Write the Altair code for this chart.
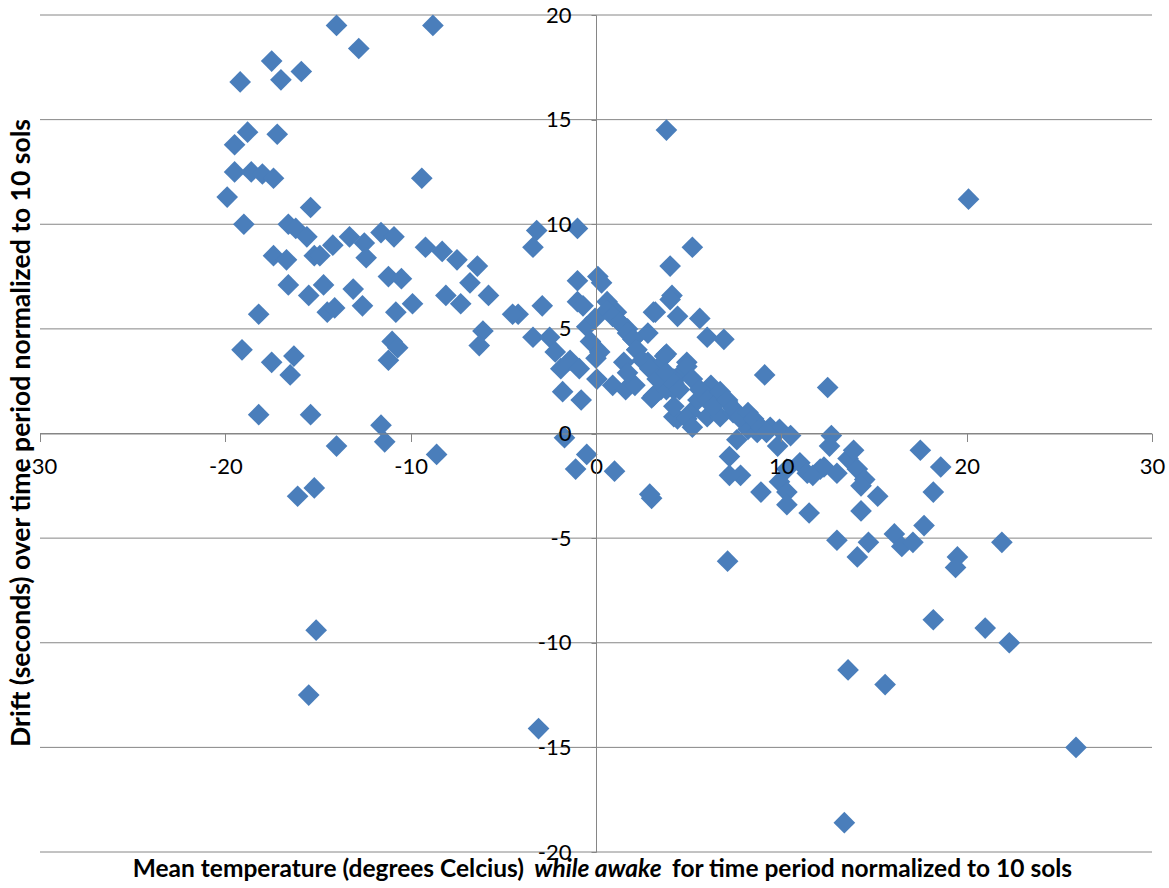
import altair as alt
import pandas as pd

# Mean temperature while awake (deg C) and clock drift (s), both normalized to 10 sols
temp_c = [
    -14.0, -12.8, -19.2, -17.5, -17.0, -15.9, -8.8,
    -18.8, -19.5, -17.2,
    -19.5, -18.6, -18.0, -17.4, -19.9, -9.4,
    -19.0, -15.4, -16.6, -16.2, -15.6,
    -17.4, -16.7, -15.2, -14.9, -14.2, -13.3, -12.5, -11.6, -10.9, -12.4,
    -16.6, -15.5, -14.7, -13.1, -11.2, -10.5,
    -9.2, -8.3, -7.5, -6.4, -6.8, -5.8, -8.1, -7.3, -9.9,
    -12.6, -14.5, -14.1, -10.8, -18.2,
    -6.1, -6.3, -11.0, -10.7, -11.2,
    -19.1, -17.5, -16.3, -16.5,
    -18.2, -15.4, -11.6, -11.4, -14.0, -8.6,
    -16.1, -15.2,
    -15.1, -15.5, -3.1,
    -3.2, -3.4, -1.0, -4.2, -4.5, -2.9, -1.0, 0.1, 0.3, -1.0, -0.7, -3.4,
    4.0, 5.2, 4.1, 4.4, 5.6, 6.0, 6.9, 3.2, 9.1, 3.8,
    -1.8, -0.8, -1.7, -0.5, -1.1, 1.0, 3.0,
    -2.5, -2.2, -1.9, -1.4, -0.9, -0.5, -0.05, -0.3, 0.2, 0.0, 0.05, 0.9, 1.6, 2.1,
    3.0, 3.7, 4.2, 4.2, 3.5,
    0.6, 1.1, 1.3, 1.7, 2.0, 2.2, 2.8, 3.1, 2.8, 3.3, 4.0, 1.5, 1.7, 4.4,
    4.9, 12.5, 3.1, 4.2, 3.8, 4.4, 5.1, 5.5, 6.2, 6.5, 7.1, 6.0, 6.7, 7.4, 7.8,
    8.2, 7.6, 7.2, 7.8, 7.2, 8.7, 9.4, 9.9, 10.5, 9.8, 10.3, 11.0, 11.4, 12.1,
    12.7, 12.6, 9.9, 8.9, 10.3, 2.9,
    0.6, 0.9, 1.3, 1.7, 2.0, 2.2, 2.5, 2.9, 3.3, 3.8, 4.2, 4.5, 4.9, 5.2, 5.6,
    6.0, 6.3, 6.7, 7.1, 7.4, 7.8, 8.2, 8.5, 8.9, 9.2, 4.2, 4.9, 5.2,
    11.7, 10.3, 11.5, 12.3, 13.0, 13.6, 13.9, 14.1, 14.5, 14.3, 15.2, 14.3,
    13.0, 14.1, 14.7, 16.1, 16.5, 17.1, 17.7, 17.5, 18.6, 18.2, 19.5, 19.4, 21.9,
    18.2, 21.0, 22.3, 15.6, 13.6, 7.1, 13.4, 25.9, 20.1, 3.8,
]
drift_s = [
    19.5, 18.4, 16.8, 17.8, 16.9, 17.3, 19.5,
    14.4, 13.8, 14.3,
    12.5, 12.5, 12.4, 12.2, 11.3, 12.2,
    10.0, 10.8, 10.0, 9.8, 9.4,
    8.5, 8.3, 8.5, 8.5, 9.0, 9.4, 9.1, 9.6, 9.4, 8.4,
    7.1, 6.6, 7.1, 6.9, 7.5, 7.4,
    8.9, 8.7, 8.3, 8.0, 7.2, 6.6, 6.6, 6.2, 6.2,
    6.1, 5.8, 6.0, 5.8, 5.7,
    4.9, 4.2, 4.4, 4.1, 3.5,
    4.0, 3.4, 3.7, 2.8,
    0.9, 0.9, 0.4, -0.4, -0.6, -1.0,
    -3.0, -2.6,
    -9.4, -12.5, -14.1,
    9.7, 8.9, 9.8, 5.7, 5.7, 6.1, 7.3, 7.5, 7.2, 6.3, 6.1, 4.6,
    8.0, 8.9, 6.6, 5.6, 5.5, 4.6, 4.5, 5.8, 2.8, 3.8,
    2.0, 1.6, -0.2, -1.0, -1.7, -1.8, -3.1,
    4.6, 3.9, 3.1, 3.5, 3.1, 5.1, 5.5, 4.4, 3.9, 3.6, 2.6, 2.3, 2.1, 2.3,
    1.7, 3.7, 0.8, 2.1, 2.1,
    6.3, 5.8, 5.3, 5.0, 4.5, 4.0, 4.8, 5.8, 3.4, 3.1, 6.4, 3.4, 2.9, 2.7,
    3.4, 2.2, 1.8, 2.6, 2.1, 0.7, 1.0, 1.6, 2.3, 1.8, 1.5, 0.8, 0.8, 1.0, 0.7,
    0.2, -0.3, -1.1, -2.0, -2.0, 0.05, 0.3, 0.2, -0.1, -0.6, -1.7, -1.4, -1.9, -1.7,
    -0.1, -0.6, -2.3, -2.8, -2.8, -2.9,
    5.9, 5.6, 5.3, 4.8, 4.5, 4.0, 3.5, 3.1, 2.6, 2.9, 2.4, 2.1, 3.2, 2.6, 2.1,
    1.6, 1.3, 2.0, 1.6, 1.2, 0.8, 1.0, 0.7, 0.3, 0.05, 1.3, 0.7, 0.3,
    -2.0, -3.4, -3.8, -1.6, -1.9, -1.2, -0.8, -1.7, -2.2, -2.5, -3.0, -3.7,
    -5.1, -5.9, -5.2, -4.8, -5.4, -5.2, -4.4, -0.8, -1.6, -2.8, -5.9, -6.4, -5.2,
    -8.9, -9.3, -10.0, -12.0, -11.3, -6.1, -18.6, -15.0, 11.2, 14.5,
]

x_ticks = [-30, -20, -10, 0, 10, 20, 30]
y_ticks = [-20, -15, -10, -5, 0, 5, 10, 15, 20]

x_title_parts = ["Mean temperature (degrees Celcius)", "while awake",
                 "for time period normalized to 10 sols"]
y_title = "Drift (seconds) over time period normalized to 10 sols"

W, H = 1112, 837
GRAY = "#868686"
BLUE = "#4A7EBB"
FONT = "Lato"

df = pd.DataFrame({"temp": temp_c, "drift": drift_s})
grid_df = pd.DataFrame({"v": y_ticks})
one = pd.DataFrame({"k": [0]})

xscale = alt.Scale(domain=[-30, 30], nice=False, zero=False)
yscale = alt.Scale(domain=[-20, 20], nice=False, zero=False)

# plain hyphen-minus in tick labels
plain_label = "datum.value + ''"

# axes cross at the origin: negative offsets pull them into the middle
x_axis = alt.Axis(
    values=x_ticks, title=None, grid=False, offset=-H / 2,
    domainColor=GRAY, tickColor=GRAY, tickSize=8, tickWidth=1,
    labelFont=FONT, labelFontSize=22, labelColor="#000000",
    labelPadding=15, labelFlush=False, labelOverlap=False, zindex=1,
    labelExpr=plain_label,
)
y_axis = alt.Axis(
    values=y_ticks, title=None, grid=False, offset=-W / 2,
    domainColor=GRAY, tickColor=GRAY, tickSize=5, tickWidth=1,
    labelFont=FONT, labelFontSize=22, labelColor="#000000",
    labelPadding=20, labelFlush=False, labelOverlap=False, zindex=1,
    labelExpr=plain_label,
)

# horizontal gridlines every 5 s
grid = alt.Chart(grid_df).mark_rule(color=GRAY, strokeWidth=1).encode(
    y=alt.Y("v:Q", scale=yscale, axis=y_axis),
    x=alt.value(0),
    x2=alt.value(W),
)

points = alt.Chart(df).mark_point(
    shape="diamond", filled=True, size=470, color=BLUE, opacity=1
).encode(
    x=alt.X("temp:Q", scale=xscale, axis=x_axis),
    y=alt.Y("drift:Q", scale=yscale, axis=y_axis),
)


def caption(text, x, y, align, size, style="normal", angle=0):
    return alt.Chart(one).mark_text(
        text=text, align=align, baseline="middle", font=FONT, fontSize=size,
        fontWeight="bold", fontStyle=style, angle=angle, color="#000000",
    ).encode(x=alt.value(x), y=alt.value(y))


titles = [
    caption(x_title_parts[0], 484, 855, "right", 24.5),
    caption(x_title_parts[1], 558, 855, "center", 24.5, style="italic"),
    caption(x_title_parts[2], 632, 855, "left", 24.5),
    caption(y_title, -18, 418, "center", 26.5, angle=270),
]

chart = alt.layer(grid, points, *titles).properties(
    width=W,
    height=H,
    padding={"left": 40, "top": 15, "right": 17, "bottom": 36},
    autosize="none",
    background="white",
).configure_view(stroke=None)

chart.save("out.html", embed_options={"renderer": "svg", "actions": False})
